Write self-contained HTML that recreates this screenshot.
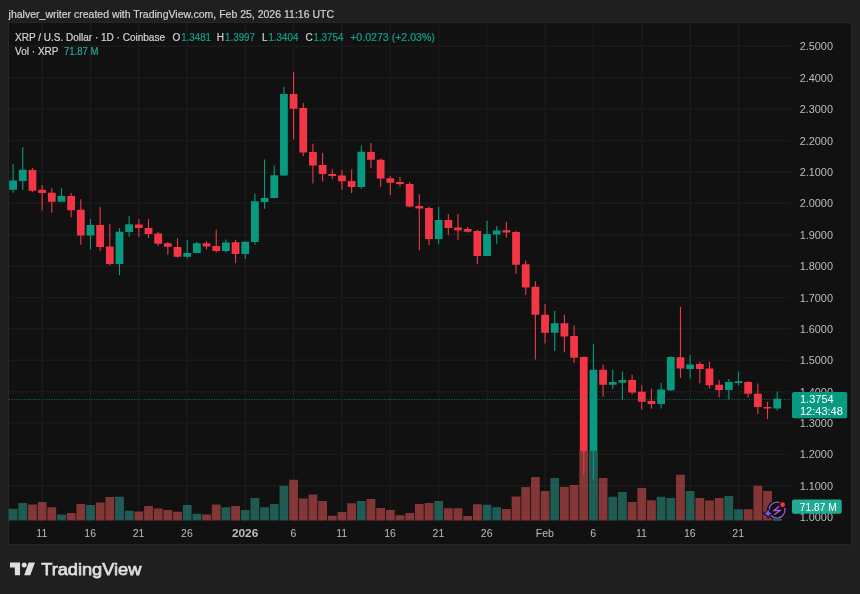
<!DOCTYPE html><html><head><meta charset="utf-8"><style>html,body{margin:0;padding:0;width:860px;height:594px;overflow:hidden;background:#1f1f1f}svg{display:block;will-change:transform}text{font-family:"Liberation Sans",sans-serif}</style></head><body><svg width="860" height="594" viewBox="0 0 860 594"><rect x="0" y="0" width="860" height="594" fill="#1f1f1f"/><text x="8.6" y="18.4" font-size="10.5" fill="#d2d2d2" stroke="#d2d2d2" stroke-width="0.2" textLength="325.4" lengthAdjust="spacingAndGlyphs">jhalver_writer created with TradingView.com, Feb 25, 2026 11:16 UTC</text><rect x="8.5" y="22.5" width="843" height="522" fill="#111111" stroke="#262626" stroke-width="1"/><path d="M9 46.30H791M9 77.69H791M9 109.09H791M9 140.48H791M9 171.88H791M9 203.27H791M9 234.66H791M9 266.06H791M9 297.45H791M9 328.85H791M9 360.24H791M9 391.63H791M9 423.03H791M9 454.42H791M9 485.82H791M9 517.21H791M42.12 23V521M90.48 23V521M138.84 23V521M187.20 23V521M245.23 23V521M293.59 23V521M341.95 23V521M390.31 23V521M438.67 23V521M487.03 23V521M545.06 23V521M593.42 23V521M641.78 23V521M690.14 23V521M738.50 23V521" stroke="#1a1a1a" stroke-width="1.5" fill="none"/><path d="M8.70 508.80h8.80V520.5h-8.80ZM18.37 502.90h8.80V520.5h-8.80ZM57.06 514.50h8.80V520.5h-8.80ZM86.08 505.00h8.80V520.5h-8.80ZM115.09 496.80h8.80V520.5h-8.80ZM124.76 510.80h8.80V520.5h-8.80ZM182.80 505.00h8.80V520.5h-8.80ZM192.47 513.80h8.80V520.5h-8.80ZM221.48 507.30h8.80V520.5h-8.80ZM240.83 510.00h8.80V520.5h-8.80ZM250.50 497.90h8.80V520.5h-8.80ZM260.17 507.30h8.80V520.5h-8.80ZM269.84 503.90h8.80V520.5h-8.80ZM279.52 485.80h8.80V520.5h-8.80ZM356.89 500.90h8.80V520.5h-8.80ZM434.27 500.90h8.80V520.5h-8.80ZM482.63 504.70h8.80V520.5h-8.80ZM492.30 507.30h8.80V520.5h-8.80ZM550.33 477.90h8.80V520.5h-8.80ZM589.02 451.00h8.80V520.5h-8.80ZM608.36 496.80h8.80V520.5h-8.80ZM618.04 492.10h8.80V520.5h-8.80ZM656.72 496.80h8.80V520.5h-8.80ZM666.40 497.90h8.80V520.5h-8.80ZM685.74 491.10h8.80V520.5h-8.80ZM724.43 496.10h8.80V520.5h-8.80ZM734.10 509.20h8.80V520.5h-8.80ZM772.79 518.80h8.80V520.5h-8.80Z" fill="rgba(45,163,149,0.5)"/><path d="M28.04 504.40h8.80V520.5h-8.80ZM37.72 502.10h8.80V520.5h-8.80ZM47.39 507.30h8.80V520.5h-8.80ZM66.73 513.00h8.80V520.5h-8.80ZM76.40 503.90h8.80V520.5h-8.80ZM95.75 502.40h8.80V520.5h-8.80ZM105.42 497.10h8.80V520.5h-8.80ZM134.44 511.50h8.80V520.5h-8.80ZM144.11 505.90h8.80V520.5h-8.80ZM153.78 508.50h8.80V520.5h-8.80ZM163.45 510.00h8.80V520.5h-8.80ZM173.12 511.80h8.80V520.5h-8.80ZM202.14 514.50h8.80V520.5h-8.80ZM211.81 504.40h8.80V520.5h-8.80ZM231.16 505.90h8.80V520.5h-8.80ZM289.19 479.70h8.80V520.5h-8.80ZM298.86 498.60h8.80V520.5h-8.80ZM308.53 494.40h8.80V520.5h-8.80ZM318.20 500.90h8.80V520.5h-8.80ZM327.88 515.80h8.80V520.5h-8.80ZM337.55 512.00h8.80V520.5h-8.80ZM347.22 503.20h8.80V520.5h-8.80ZM366.56 499.10h8.80V520.5h-8.80ZM376.24 508.00h8.80V520.5h-8.80ZM385.91 510.00h8.80V520.5h-8.80ZM395.58 515.30h8.80V520.5h-8.80ZM405.25 513.00h8.80V520.5h-8.80ZM414.92 503.90h8.80V520.5h-8.80ZM424.60 502.90h8.80V520.5h-8.80ZM443.94 508.20h8.80V520.5h-8.80ZM453.61 508.20h8.80V520.5h-8.80ZM463.28 516.10h8.80V520.5h-8.80ZM472.96 504.20h8.80V520.5h-8.80ZM501.97 508.90h8.80V520.5h-8.80ZM511.64 496.40h8.80V520.5h-8.80ZM521.32 487.00h8.80V520.5h-8.80ZM530.99 477.00h8.80V520.5h-8.80ZM540.66 491.10h8.80V520.5h-8.80ZM560.00 487.00h8.80V520.5h-8.80ZM569.68 485.00h8.80V520.5h-8.80ZM579.35 451.00h8.80V520.5h-8.80ZM598.69 477.90h8.80V520.5h-8.80ZM627.71 502.00h8.80V520.5h-8.80ZM637.38 488.00h8.80V520.5h-8.80ZM647.05 500.20h8.80V520.5h-8.80ZM676.07 474.80h8.80V520.5h-8.80ZM695.41 497.90h8.80V520.5h-8.80ZM705.08 500.60h8.80V520.5h-8.80ZM714.76 497.90h8.80V520.5h-8.80ZM743.77 509.20h8.80V520.5h-8.80ZM753.44 485.80h8.80V520.5h-8.80ZM763.12 491.10h8.80V520.5h-8.80Z" fill="rgba(245,91,91,0.5)"/><path d="M12.55 163.90h1.1V192.70h-1.1ZM9.20 180.60h7.80v9.10h-7.80ZM22.22 147.30h1.1V190.00h-1.1ZM18.87 169.80h7.80v11.10h-7.80ZM60.91 188.20h1.1V201.70h-1.1ZM57.56 196.00h7.80v5.70h-7.80ZM89.93 219.00h1.1V249.50h-1.1ZM86.58 225.00h7.80v10.60h-7.80ZM118.94 228.00h1.1V275.30h-1.1ZM115.59 231.80h7.80v32.20h-7.80ZM128.61 216.20h1.1V236.70h-1.1ZM125.26 224.20h7.80v7.90h-7.80ZM186.65 240.00h1.1V258.60h-1.1ZM183.30 252.90h7.80v3.80h-7.80ZM196.32 241.70h1.1V253.30h-1.1ZM192.97 243.20h7.80v9.80h-7.80ZM225.33 239.40h1.1V252.60h-1.1ZM221.98 242.40h7.80v8.60h-7.80ZM244.68 241.30h1.1V259.00h-1.1ZM241.33 241.70h7.80v12.40h-7.80ZM254.35 193.50h1.1V244.80h-1.1ZM251.00 201.20h7.80v40.80h-7.80ZM264.02 159.40h1.1V208.80h-1.1ZM260.67 198.00h7.80v3.90h-7.80ZM273.69 165.50h1.1V198.30h-1.1ZM270.34 175.20h7.80v22.80h-7.80ZM283.37 87.00h1.1V176.00h-1.1ZM280.02 94.10h7.80v81.50h-7.80ZM360.74 145.60h1.1V188.80h-1.1ZM357.39 151.80h7.80v35.20h-7.80ZM438.12 206.80h1.1V243.90h-1.1ZM434.77 220.00h7.80v18.90h-7.80ZM486.48 220.80h1.1V256.10h-1.1ZM483.13 234.10h7.80v22.00h-7.80ZM496.15 225.90h1.1V243.80h-1.1ZM492.80 230.60h7.80v3.80h-7.80ZM554.18 311.10h1.1V350.90h-1.1ZM550.83 323.20h7.80v9.50h-7.80ZM592.87 344.10h1.1V479.70h-1.1ZM589.52 369.80h7.80v81.20h-7.80ZM612.21 369.80h1.1V388.80h-1.1ZM608.86 382.00h7.80v2.70h-7.80ZM621.89 371.40h1.1V400.20h-1.1ZM618.54 380.00h7.80v2.70h-7.80ZM660.57 382.70h1.1V408.50h-1.1ZM657.22 389.50h7.80v14.40h-7.80ZM670.25 356.20h1.1V391.00h-1.1ZM666.90 357.00h7.80v33.20h-7.80ZM689.59 355.00h1.1V378.50h-1.1ZM686.24 364.40h7.80v4.50h-7.80ZM728.28 379.10h1.1V399.50h-1.1ZM724.93 382.10h7.80v7.90h-7.80ZM737.95 371.50h1.1V385.50h-1.1ZM734.60 381.20h7.80v1.70h-7.80ZM776.64 391.50h1.1V410.50h-1.1ZM773.29 398.80h7.80v9.70h-7.80Z" fill="#089981"/><path d="M31.89 168.00h1.1V192.30h-1.1ZM28.54 170.00h7.80v20.80h-7.80ZM41.57 185.00h1.1V210.50h-1.1ZM38.22 189.70h7.80v3.30h-7.80ZM51.24 188.20h1.1V212.70h-1.1ZM47.89 192.70h7.80v9.00h-7.80ZM70.58 193.00h1.1V217.30h-1.1ZM67.23 196.00h7.80v14.20h-7.80ZM80.25 199.20h1.1V244.70h-1.1ZM76.90 209.80h7.80v25.80h-7.80ZM99.60 207.10h1.1V251.00h-1.1ZM96.25 225.00h7.80v22.00h-7.80ZM109.27 224.20h1.1V265.50h-1.1ZM105.92 246.50h7.80v17.50h-7.80ZM138.29 219.00h1.1V236.70h-1.1ZM134.94 224.50h7.80v3.40h-7.80ZM147.96 219.00h1.1V237.90h-1.1ZM144.61 227.90h7.80v6.20h-7.80ZM157.63 232.10h1.1V246.10h-1.1ZM154.28 233.60h7.80v10.20h-7.80ZM167.30 242.00h1.1V254.80h-1.1ZM163.95 243.20h7.80v3.60h-7.80ZM176.97 238.20h1.1V257.60h-1.1ZM173.62 247.00h7.80v9.80h-7.80ZM205.99 241.20h1.1V249.50h-1.1ZM202.64 243.20h7.80v3.30h-7.80ZM215.66 229.80h1.1V252.60h-1.1ZM212.31 246.10h7.80v4.90h-7.80ZM235.01 239.90h1.1V263.10h-1.1ZM231.66 242.20h7.80v11.90h-7.80ZM293.04 72.10h1.1V139.50h-1.1ZM289.69 94.10h7.80v14.70h-7.80ZM302.71 102.90h1.1V155.90h-1.1ZM299.36 108.00h7.80v44.40h-7.80ZM312.38 143.80h1.1V183.60h-1.1ZM309.03 152.10h7.80v13.40h-7.80ZM322.05 152.90h1.1V181.40h-1.1ZM318.70 165.00h7.80v9.10h-7.80ZM331.73 169.20h1.1V179.10h-1.1ZM328.38 174.10h7.80v1.80h-7.80ZM341.40 169.80h1.1V189.70h-1.1ZM338.05 175.60h7.80v5.60h-7.80ZM351.07 169.50h1.1V193.00h-1.1ZM347.72 180.90h7.80v6.10h-7.80ZM370.41 143.00h1.1V168.30h-1.1ZM367.06 152.10h7.80v7.60h-7.80ZM380.09 158.50h1.1V186.70h-1.1ZM376.74 159.70h7.80v18.90h-7.80ZM389.76 175.90h1.1V195.00h-1.1ZM386.41 178.30h7.80v4.40h-7.80ZM399.43 177.10h1.1V186.70h-1.1ZM396.08 182.10h7.80v1.80h-7.80ZM409.10 182.10h1.1V207.40h-1.1ZM405.75 183.90h7.80v22.50h-7.80ZM418.77 194.20h1.1V250.30h-1.1ZM415.42 205.90h7.80v2.70h-7.80ZM428.45 206.40h1.1V245.00h-1.1ZM425.10 207.90h7.80v31.00h-7.80ZM447.79 213.90h1.1V235.20h-1.1ZM444.44 220.00h7.80v8.00h-7.80ZM457.46 213.90h1.1V239.70h-1.1ZM454.11 227.60h7.80v2.60h-7.80ZM467.13 226.80h1.1V232.60h-1.1ZM463.78 229.10h7.80v2.60h-7.80ZM476.81 229.80h1.1V263.90h-1.1ZM473.46 231.10h7.80v25.00h-7.80ZM505.82 221.80h1.1V237.40h-1.1ZM502.47 230.20h7.80v2.20h-7.80ZM515.49 230.90h1.1V273.80h-1.1ZM512.14 232.00h7.80v32.70h-7.80ZM525.17 260.50h1.1V294.80h-1.1ZM521.82 264.20h7.80v23.30h-7.80ZM534.84 281.20h1.1V359.50h-1.1ZM531.49 286.80h7.80v28.00h-7.80ZM544.51 303.90h1.1V343.60h-1.1ZM541.16 314.80h7.80v17.90h-7.80ZM563.85 314.80h1.1V352.30h-1.1ZM560.50 323.20h7.80v13.30h-7.80ZM573.53 325.50h1.1V362.70h-1.1ZM570.18 336.10h7.80v21.70h-7.80ZM583.20 356.20h1.1V474.80h-1.1ZM579.85 357.00h7.80v94.00h-7.80ZM602.54 364.50h1.1V396.80h-1.1ZM599.19 369.80h7.80v14.90h-7.80ZM631.56 374.80h1.1V394.50h-1.1ZM628.21 380.00h7.80v12.60h-7.80ZM641.23 385.30h1.1V409.70h-1.1ZM637.88 391.80h7.80v9.90h-7.80ZM650.90 388.80h1.1V408.80h-1.1ZM647.55 400.90h7.80v3.00h-7.80ZM679.92 306.80h1.1V378.00h-1.1ZM676.57 357.30h7.80v11.30h-7.80ZM699.26 361.70h1.1V383.30h-1.1ZM695.91 364.10h7.80v4.80h-7.80ZM708.93 361.80h1.1V388.50h-1.1ZM705.58 368.60h7.80v16.60h-7.80ZM718.61 380.20h1.1V397.30h-1.1ZM715.26 384.70h7.80v5.30h-7.80ZM747.62 381.20h1.1V397.60h-1.1ZM744.27 382.00h7.80v11.80h-7.80ZM757.29 383.60h1.1V413.90h-1.1ZM753.94 393.80h7.80v13.20h-7.80ZM766.97 401.70h1.1V419.10h-1.1ZM763.62 407.00h7.80v1.50h-7.80Z" fill="#f23645"/><line x1="9" y1="399.5" x2="791" y2="399.5" stroke="#089981" stroke-width="1" stroke-dasharray="1 1.5" stroke-opacity="0.65"/><text x="799.7" y="50.3" font-size="11" fill="#bcbcbc" textLength="33.3" lengthAdjust="spacingAndGlyphs">2.5000</text><text x="799.7" y="81.7" font-size="11" fill="#bcbcbc" textLength="33.3" lengthAdjust="spacingAndGlyphs">2.4000</text><text x="799.7" y="113.1" font-size="11" fill="#bcbcbc" textLength="33.3" lengthAdjust="spacingAndGlyphs">2.3000</text><text x="799.7" y="144.5" font-size="11" fill="#bcbcbc" textLength="33.3" lengthAdjust="spacingAndGlyphs">2.2000</text><text x="799.7" y="175.9" font-size="11" fill="#bcbcbc" textLength="33.3" lengthAdjust="spacingAndGlyphs">2.1000</text><text x="799.7" y="207.3" font-size="11" fill="#bcbcbc" textLength="33.3" lengthAdjust="spacingAndGlyphs">2.0000</text><text x="799.7" y="238.7" font-size="11" fill="#bcbcbc" textLength="33.3" lengthAdjust="spacingAndGlyphs">1.9000</text><text x="799.7" y="270.1" font-size="11" fill="#bcbcbc" textLength="33.3" lengthAdjust="spacingAndGlyphs">1.8000</text><text x="799.7" y="301.5" font-size="11" fill="#bcbcbc" textLength="33.3" lengthAdjust="spacingAndGlyphs">1.7000</text><text x="799.7" y="332.8" font-size="11" fill="#bcbcbc" textLength="33.3" lengthAdjust="spacingAndGlyphs">1.6000</text><text x="799.7" y="364.2" font-size="11" fill="#bcbcbc" textLength="33.3" lengthAdjust="spacingAndGlyphs">1.5000</text><text x="799.7" y="395.6" font-size="11" fill="#bcbcbc" textLength="33.3" lengthAdjust="spacingAndGlyphs">1.4000</text><text x="799.7" y="427.0" font-size="11" fill="#bcbcbc" textLength="33.3" lengthAdjust="spacingAndGlyphs">1.3000</text><text x="799.7" y="458.4" font-size="11" fill="#bcbcbc" textLength="33.3" lengthAdjust="spacingAndGlyphs">1.2000</text><text x="799.7" y="489.8" font-size="11" fill="#bcbcbc" textLength="33.3" lengthAdjust="spacingAndGlyphs">1.1000</text><text x="799.7" y="521.2" font-size="11" fill="#bcbcbc" textLength="33.3" lengthAdjust="spacingAndGlyphs">1.0000</text><rect x="792" y="392" width="55.2" height="26.2" rx="2" fill="#089981"/><text x="800" y="403.3" font-size="11" fill="#ffffff">1.3754</text><text x="800" y="415.3" font-size="11" fill="#ffffff">12:43:48</text><rect x="792" y="499.4" width="49.7" height="14.4" rx="2" fill="#22ab94"/><text x="799.8" y="510.5" font-size="11" fill="#ffffff" textLength="36.9" lengthAdjust="spacingAndGlyphs">71.87 M</text><text x="41.8" y="537.3" font-size="10.5" fill="#bcbcbc" text-anchor="middle">11</text><text x="90.2" y="537.3" font-size="10.5" fill="#bcbcbc" text-anchor="middle">16</text><text x="138.5" y="537.3" font-size="10.5" fill="#bcbcbc" text-anchor="middle">21</text><text x="186.9" y="537.3" font-size="10.5" fill="#bcbcbc" text-anchor="middle">26</text><text x="231.9" y="537.3" font-size="10.5" font-weight="bold" fill="#bcbcbc" textLength="26.4" lengthAdjust="spacingAndGlyphs">2026</text><text x="293.3" y="537.3" font-size="10.5" fill="#bcbcbc" text-anchor="middle">6</text><text x="341.6" y="537.3" font-size="10.5" fill="#bcbcbc" text-anchor="middle">11</text><text x="390.0" y="537.3" font-size="10.5" fill="#bcbcbc" text-anchor="middle">16</text><text x="438.4" y="537.3" font-size="10.5" fill="#bcbcbc" text-anchor="middle">21</text><text x="486.7" y="537.3" font-size="10.5" fill="#bcbcbc" text-anchor="middle">26</text><text x="544.8" y="537.3" font-size="10.5" fill="#bcbcbc" text-anchor="middle">Feb</text><text x="593.1" y="537.3" font-size="10.5" fill="#bcbcbc" text-anchor="middle">6</text><text x="641.5" y="537.3" font-size="10.5" fill="#bcbcbc" text-anchor="middle">11</text><text x="689.8" y="537.3" font-size="10.5" fill="#bcbcbc" text-anchor="middle">16</text><text x="738.2" y="537.3" font-size="10.5" fill="#bcbcbc" text-anchor="middle">21</text><text y="40.6" font-size="10" fill="#d2d2d2" stroke="#d2d2d2" stroke-width="0.2"><tspan x="15.1">XRP / U.S. Dollar · 1D · Coinbase</tspan></text><text y="40.6" font-size="10"><tspan x="172.5" fill="#d2d2d2" stroke="#d2d2d2" stroke-width="0.2">O</tspan><tspan x="181.2" fill="#12a189" stroke="#12a189" stroke-width="0.2" textLength="29.8" lengthAdjust="spacingAndGlyphs">1.3481</tspan><tspan x="216.7" fill="#d2d2d2" stroke="#d2d2d2" stroke-width="0.2">H</tspan><tspan x="225.1" fill="#12a189" stroke="#12a189" stroke-width="0.2" textLength="29.8" lengthAdjust="spacingAndGlyphs">1.3997</tspan><tspan x="262" fill="#d2d2d2" stroke="#d2d2d2" stroke-width="0.2">L</tspan><tspan x="268.5" fill="#12a189" stroke="#12a189" stroke-width="0.2" textLength="29.8" lengthAdjust="spacingAndGlyphs">1.3404</tspan><tspan x="305.5" fill="#d2d2d2" stroke="#d2d2d2" stroke-width="0.2">C</tspan><tspan x="313.5" fill="#12a189" stroke="#12a189" stroke-width="0.2" textLength="29.8" lengthAdjust="spacingAndGlyphs">1.3754</tspan><tspan x="350.2" fill="#12a189" stroke="#12a189" stroke-width="0.2" textLength="84.7" lengthAdjust="spacingAndGlyphs">+0.0273 (+2.03%)</tspan></text><text y="55.3" font-size="10"><tspan x="15.1" fill="#d2d2d2" stroke="#d2d2d2" stroke-width="0.2">Vol · XRP</tspan><tspan x="64" fill="#22ab94" stroke="#22ab94" stroke-width="0.2" textLength="34.5" lengthAdjust="spacingAndGlyphs">71.87 M</tspan></text><g fill="#dedede"><path d="M9.95 562.6H20.05V575.2H14.85V567.6H9.95Z"/><circle cx="24.2" cy="565" r="2.5"/><path d="M28.7 562.6H35L30.25 575.2H24.2Z"/></g><text x="41.2" y="575" font-size="17.2" style="fill:#dedede;stroke:#dedede;stroke-width:0.75px" textLength="100.2" lengthAdjust="spacingAndGlyphs">TradingView</text><circle cx="777" cy="510.1" r="10.2" fill="#111111"/><circle cx="777" cy="510.1" r="8" fill="none" stroke="#a04fd8" stroke-width="1.3"/><path d="M779.2 506.2L774 510.5H780.1L774.3 514.8" fill="none" stroke="#b355dc" stroke-width="1.35" stroke-linejoin="miter" stroke-linecap="butt"/><circle cx="782.6" cy="504.7" r="2.4" fill="#f23645" stroke="#111111" stroke-width="2.2" paint-order="stroke"/><path d="M768.1 509.3Q768.6 512.9 772.3 513.4Q768.6 513.9 768.1 517.4Q767.6 513.9 763.9 513.4Q767.6 512.9 768.1 509.3Z" fill="#7757f7" stroke="#111111" stroke-width="2" paint-order="stroke" stroke-linejoin="round"/><path d="M772.79 518.80h8.80V520.5h-8.80Z" fill="rgba(45,163,149,0.5)"/></svg></body></html>
